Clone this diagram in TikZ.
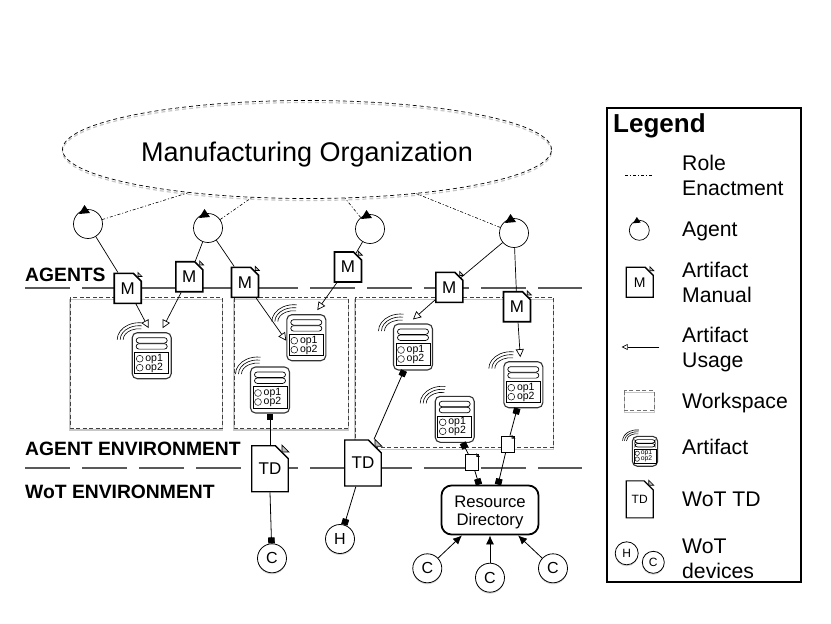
\documentclass[tikz,border=0pt]{standalone}
\usepackage{fontspec}
\setmainfont{Liberation Sans}
\usetikzlibrary{positioning,arrows.meta,shapes.geometric,shapes.misc,shadows}
\newcommand{\px}[1]{\fontsize{#1}{#1}\selectfont}
\tikzset{
  doc node/.style={chamfered rectangle,chamfered rectangle corners=north east,chamfered rectangle sep=4pt,
    draw,fill=white,line width=1.6pt,inner sep=0pt,minimum width=27pt,minimum height=30pt,font=\px{17}},
  td node/.style={doc node,line width=1.4pt,chamfered rectangle sep=7pt,minimum width=36.5pt,minimum height=46pt},
  tag node/.style={doc node,line width=.7pt,minimum width=13pt,minimum height=16pt,chamfered rectangle sep=2.5pt},
  agent node/.style={circle,draw,fill=white,line width=.7pt,inner sep=0pt,minimum size=29pt},
  device node/.style={circle,draw,fill=white,line width=.8pt,inner sep=0pt,minimum size=29pt,font=\px{16},
    drop shadow={shadow xshift=0pt,shadow yshift=-1.5pt,fill=black!30}},
  soft shade/.style={preaction={draw=black!22,line width=1.2pt,transform canvas={yshift=-2pt}}},
  workspace/.style={draw=black!75,line width=.8pt,dash pattern=on 4pt off 2.5pt,soft shade},
  layer line/.style={draw=black!65,line width=1.3pt,dash pattern=on 45pt off 12pt},
  role line/.style={line width=.6pt,dash pattern=on 3pt off 2pt on 1pt off 2pt},
  usage line/.style={line width=.7pt,-{Triangle[open,length=8pt,width=8pt,fill=white]}},
  manual line/.style={line width=.7pt},
  bind line/.style={line width=.8pt,{Square[length=6pt,width=6.5pt]}-},
  bound line/.style={line width=.8pt,-{Square[length=6pt,width=6.5pt]}},
  request line/.style={line width=.8pt,-{Latex[length=9pt,width=8pt]}},
  legend text/.style={anchor=west,align=left,inner sep=0pt,font=\px{21.2}},
  artifact/.pic={
    \node[draw=black!80,fill=white,line width=1.1pt,rounded corners=5pt,inner sep=0pt,
      minimum width=39pt,minimum height=46pt,transform shape] (-box) at (0,0) {};
    \draw[line width=.7pt,rounded corners=2.7pt] (-15.5,-18) rectangle (15.5,-12.6);
    \draw[line width=.7pt,rounded corners=2.7pt] (-15.5,-12) rectangle (15.5,-6.6);
    \draw[line width=.7pt] (-17,-3.3) rectangle (17,18);
    \draw[line width=.5pt] (-12,3) circle[radius=3.4pt] (-12,12) circle[radius=3.4pt];
    \node[anchor=west,inner sep=0pt,font=\px{10.5},transform shape] (-opa) at (-6.5,3) {op1};
    \node[anchor=west,inner sep=0pt,font=\px{10.5},transform shape] (-opb) at (-6.5,12) {op2};
    \draw[line width=.6pt] (-34.5,-16) arc[start angle=180,end angle=82,x radius=22pt,y radius=17pt];
    \draw[line width=.6pt] (-31.5,-16) arc[start angle=180,end angle=82,x radius=19pt,y radius=14pt];
    \draw[line width=.6pt] (-28.5,-16) arc[start angle=180,end angle=82,x radius=16pt,y radius=11pt];
  }
}
\begin{document}
\begin{tikzpicture}[x=1pt,y=-1pt]
  \useasboundingbox (0,0) rectangle (831,624);

  \draw[layer line] (25,288) -- (582,288);
  \draw[layer line] (25,468) -- (582,468);
  \draw[workspace] (70,297.5) rectangle (222.5,428);
  \draw[workspace] (234,297.5) rectangle (348.5,428);
  \draw[workspace] (355,297.5) rectangle (553.5,447.5);

  \node[ellipse,draw,line width=.7pt,dash pattern=on 4pt off 3pt,soft shade,inner sep=0pt,text height=24pt,text depth=0pt,
    minimum width=489pt,minimum height=98pt,font=\px{27}] (org) at (307,149.5) {Manufacturing Organization};

  \node[anchor=west,inner sep=0pt,font=\bfseries\px{19.3}] (agents) at (25,275) {AGENTS};
  \node[anchor=west,inner sep=0pt,font=\bfseries\px{19.3}] (agentenv) at (25,449) {AGENT ENVIRONMENT};
  \node[anchor=west,inner sep=0pt,font=\bfseries\px{19.3}] (wotenv) at (25,492) {WoT ENVIRONMENT};

  \node[agent node] (a1) at (88,224) {};
  \node[agent node] (a2) at (208,228) {};
  \node[agent node] (a3) at (370,229) {};
  \node[agent node] (a4) at (514,233) {};

  \pic (art1) at (151.7,355.7) {artifact};
  \pic (art2) at (306.3,337.7) {artifact};
  \pic (art3) at (270,390) {artifact};
  \pic (art4) at (413,347) {artifact};
  \pic (art5) at (454.7,419.3) {artifact};
  \pic (art6) at (523.3,384.7) {artifact};

  \node[doc node] (m1) at (127.7,288.3) {M};
  \node[doc node] (m2) at (189.3,276.7) {M};
  \node[doc node] (m3) at (245,282.3) {M};
  \node[doc node] (m4) at (348,267) {M};
  \node[doc node] (m5) at (449.3,287.3) {M};
  \node[doc node] (m6) at (517,306.7) {M};

  \node[td node] (td1) at (270,468.7) {TD};
  \node[td node] (td2) at (363,463) {TD};
  \node[tag node] (d1) at (472.3,462.3) {};
  \node[tag node] (d2) at (507.7,444) {};

  \node[draw,fill=white,line width=1.8pt,rounded corners=10pt,minimum width=97pt,minimum height=49pt,
    inner sep=0pt,align=center,font=\px{16.7}] (rd) at (490,510) {\rule{0pt}{16pt}Resource\\[1.5pt]Directory};

  \node[device node] (c0) at (272,558.3) {C};
  \node[device node] (h1) at (340,539) {H};
  \node[device node] (c1) at (427.3,568.3) {C};
  \node[device node] (c2) at (490,577.7) {C};
  \node[device node] (c3) at (553,568.3) {C};

  \draw[role line] (a1) -- (org.200);
  \draw[role line] (a2) -- (org.221);
  \draw[role line] (a3) -- (org.308);
  \draw[role line] (a4) -- (org.338);

  \draw[manual line] (a1) -- (m1);
  \draw[manual line] (a2) -- (m2);
  \draw[manual line] (a2) -- (m3);
  \draw[manual line] (a3) -- (m4);
  \draw[manual line] (a4) -- (m5);
  \draw[manual line] (a4) -- (m6);

  \draw[usage line] (m1) -- ([xshift=-3pt,yshift=4pt]art1-box.north);
  \draw[usage line] (m2) -- ([xshift=11pt,yshift=4pt]art1-box.north);
  \draw[usage line] (m3) -- ([yshift=-3pt]art2-box.west);
  \draw[usage line] (m4) -- ([xshift=11pt,yshift=4pt]art2-box.north);
  \draw[usage line] (m5) -- ([yshift=4pt]art4-box.north);
  \draw[usage line] (m6) -- ([xshift=-3pt,yshift=4pt]art6-box.north);

  \draw[bind line] (art3-box.south) -- (td1.north);
  \draw[bind line] ([xshift=-9pt]art4-box.south) -- ([xshift=11pt]td2.north);
  \draw[bind line] ([xshift=8pt]art5-box.south) -- (d1);
  \draw[bind line] ([xshift=-6pt]art6-box.south) -- (d2);
  \draw[bound line] (td1.south) -- (c0);
  \draw[bound line] (td2) -- (h1);
  \draw[bound line] (d1) -- ([xshift=-11pt]rd.north);
  \draw[bound line] (d2) -- ([xshift=8pt]rd.north);

  \draw[request line] (c1) -- ([xshift=-28pt]rd.south);
  \draw[request line] (c2) -- (rd.south);
  \draw[request line] (c3) -- ([xshift=28pt]rd.south);

  \node[draw,line width=2pt,minimum width=194pt,minimum height=474pt,inner sep=0pt] (legend) at (704,345) {};
  \node[anchor=west,inner sep=0pt,font=\bfseries\px{26}] (ltitle) at (613,126) {Legend};

  \coordinate (lr1) at (625,175.3);
  \coordinate (lr2) at (653,175.3);
  \draw[role line] (lr1) -- (lr2);
  \node[legend text] (lt1) at (682,175.5) {Role\\[3.8pt]Enactment};

  \node[agent node,minimum size=20pt] (la2) at (639.3,230.3) {};
  \node[legend text] (lt2) at (682,231.5) {Agent};

  \node[doc node,line width=1.3pt,font=\px{14}] (lm) at (639.7,282.3) {M};
  \node[legend text] (lt3) at (682,282.5) {Artifact\\[3.8pt]Manual};

  \coordinate (lu1) at (659.3,347);
  \coordinate (lu2) at (621.7,347);
  \draw[manual line,-{Triangle[open,length=6pt,width=6pt]}] (lu1) -- (lu2);
  \node[legend text] (lt4) at (682,349.5) {Artifact\\[3.8pt]Usage};

  \draw[workspace,draw=black!55] (624.3,390.7) rectangle (654.3,410.7);
  \node[legend text] (lt5) at (682,403) {Workspace};

  \pic[scale=.65] (lart) at (645,451.3) {artifact};
  \node[legend text] (lt6) at (682,447) {Artifact};

  \node[td node,line width=1.1pt,chamfered rectangle sep=5pt,minimum width=27pt,minimum height=37pt,font=\px{12}] (ltd) at (639.7,499.3) {TD};
  \node[legend text] (lt7) at (682,499) {WoT TD};

  \node[device node,minimum size=23pt,font=\px{12}] (lh) at (626.7,553.3) {H};
  \node[device node,minimum size=22pt,font=\px{12}] (lc) at (653.3,562.3) {C};
  \node[legend text] (lt8) at (682,558.5) {WoT\\[3.8pt]devices};

  \foreach \ag/\sz in {a1/1,a2/1,a3/1,a4/1,la2/.7}
    \fill[black] ([shift={(-9*\sz,-10*\sz)}]\ag.center) -- ([shift={(-3.5*\sz,-19*\sz)}]\ag.center) -- ([shift={(2*\sz,-11*\sz)}]\ag.center) -- cycle;
  \foreach \dc/\sz in {m1/4,m2/4,m3/4,m4/4,m5/4,m6/4,td1/7,td2/7,d1/2.5,d2/2.5,lm/4,ltd/5}
    \draw[line width=.7pt,fill=black!25] (\dc.north -| \dc.east) ++(-\sz,0) |- ++(\sz,\sz) -- cycle;
\end{tikzpicture}
\end{document}
